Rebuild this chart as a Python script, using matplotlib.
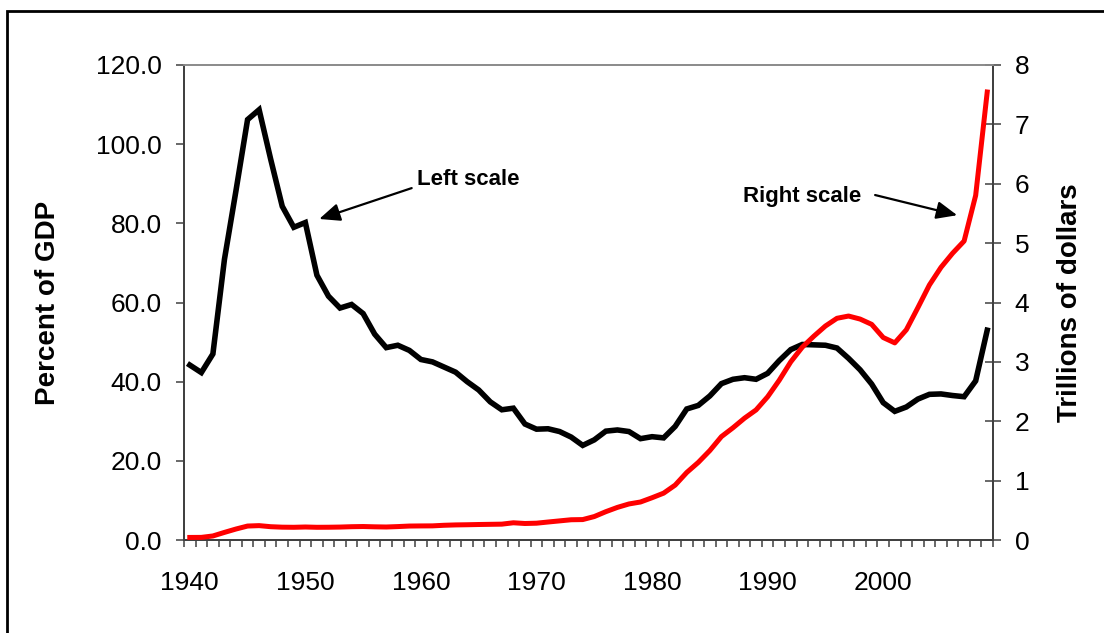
import matplotlib.pyplot as plt
import numpy as np
from matplotlib.patches import Rectangle

plt.rcParams['font.family'] = ['Liberation Sans', 'DejaVu Sans']

years = list(range(1940, 2010))

# debt held by the public, percent of GDP (left scale)
pct_gdp = [44.2, 42.3, 47.0, 70.9, 88.3, 106.2, 108.7, 96.2, 84.3, 79.0,
           80.2, 66.9, 61.6, 58.6, 59.5, 57.2, 52.0, 48.6, 49.2, 47.9,
           45.6, 45.0, 43.7, 42.4, 40.0, 37.9, 34.9, 32.9, 33.3, 29.3,
           28.0, 28.1, 27.4, 26.0, 23.9, 25.3, 27.5, 27.8, 27.4, 25.6,
           26.1, 25.8, 28.7, 33.1, 34.0, 36.4, 39.5, 40.6, 41.0, 40.6,
           42.1, 45.3, 48.1, 49.4, 49.3, 49.2, 48.5, 45.9, 43.0, 39.4,
           34.7, 32.5, 33.6, 35.6, 36.8, 36.9, 36.5, 36.2, 40.2, 53.0]

# debt held by the public, trillions of dollars (right scale)
trillions = [0.043, 0.044, 0.068, 0.128, 0.185, 0.235, 0.242, 0.224, 0.216, 0.214,
             0.219, 0.214, 0.215, 0.218, 0.224, 0.227, 0.222, 0.219, 0.226, 0.235,
             0.237, 0.238, 0.248, 0.254, 0.257, 0.261, 0.264, 0.267, 0.290, 0.278,
             0.283, 0.303, 0.322, 0.341, 0.344, 0.395, 0.477, 0.549, 0.607, 0.640,
             0.712, 0.789, 0.925, 1.137, 1.307, 1.507, 1.741, 1.890, 2.052, 2.191,
             2.412, 2.689, 3.000, 3.248, 3.433, 3.604, 3.734, 3.772, 3.721, 3.632,
             3.410, 3.320, 3.540, 3.913, 4.296, 4.592, 4.829, 5.035, 5.803, 7.545]

left_ticks = [0, 20, 40, 60, 80, 100, 120]
right_ticks = [0, 1, 2, 3, 4, 5, 6, 7, 8]
label_years = [1940, 1950, 1960, 1970, 1980, 1990, 2000]

fig = plt.figure(figsize=(11.04, 6.33), dpi=100)
ax = fig.add_axes([184 / 1104, 93 / 633, 809 / 1104, 475 / 633])
ax2 = ax.twinx()

x = np.arange(len(years))
ax.plot(x, pct_gdp, color='black', lw=4, solid_joinstyle='miter', zorder=3)
ax2.plot(x, trillions, color='#ff0000', lw=3.6, zorder=3)

ax.set_xlim(-0.5, len(years) - 0.5)
ax.set_ylim(0, 120)
ax2.set_ylim(0, 8)

axis_col = '#404040'
for a in (ax, ax2):
    for s in a.spines.values():
        s.set_color(axis_col)
        s.set_linewidth(1.3)
    a.spines['top'].set_color('#8c8c8c')

# category axis: tick marks between years, labels every 10 years
ax.set_xticks(np.arange(-0.5, len(years), 1), minor=True)
ax.set_xticks([years.index(y) for y in label_years])
ax.set_xticklabels([str(y) for y in label_years])
ax.tick_params(axis='x', which='minor', direction='out', length=5, width=1.1, color=axis_col)
ax.tick_params(axis='x', which='major', length=0, pad=22, labelsize=19)

ax.set_yticks(left_ticks)
ax.set_yticklabels(['%.1f' % v for v in left_ticks])
ax.tick_params(axis='y', direction='out', length=6, width=1.1, color=axis_col, pad=10, labelsize=19)

ax2.set_yticks(right_ticks)
ax2.tick_params(axis='y', direction='inout', length=11, width=1.1, color=axis_col, pad=10, labelsize=19)

ax.set_ylabel('Percent of GDP', fontsize=20, fontweight='bold')
ax.yaxis.set_label_coords(-0.152, 0.5)
ax2.set_ylabel('Trillions of dollars', fontsize=20, fontweight='bold')
ax2.yaxis.set_label_coords(1.079, 0.5)

arrow = dict(arrowstyle='-|>,head_length=0.7,head_width=0.3', color='black',
             lw=1.6, mutation_scale=18, shrinkA=0, shrinkB=0)
ax.annotate('', xy=(11.2, 81.1), xytext=(19.2, 88.9), arrowprops=arrow)
ax.text(19.7, 91.0, 'Left scale', fontsize=16, fontweight='bold', va='center', ha='left')
ax2.annotate('', xy=(66.4, 5.47), xytext=(59.3, 5.81), arrowprops=arrow)
ax2.text(47.9, 5.79, 'Right scale', fontsize=16, fontweight='bold', va='center', ha='left')

# outer chart border (runs off the right and bottom edges)
fig.patches.append(Rectangle((7 / 1104, -0.1), 1.2, (633 - 11) / 633 + 0.1,
                             transform=fig.transFigure, fill=False,
                             edgecolor='black', lw=2))

fig.savefig('out.png', dpi=100)
